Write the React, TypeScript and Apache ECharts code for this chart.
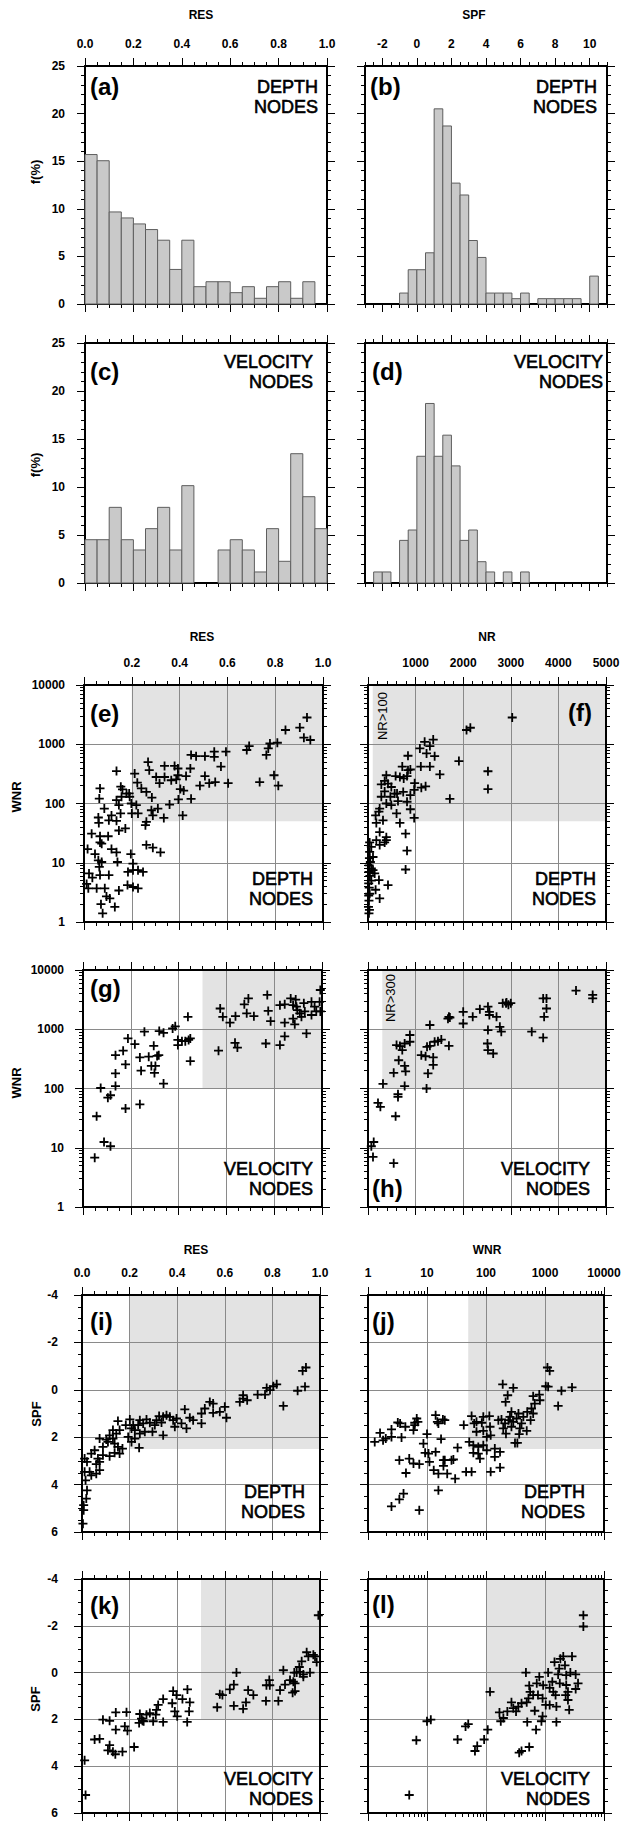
import React, { useEffect, useRef } from "react";
import * as echarts from "echarts";

const W = 624;
const H = 1821;
const FONT = '"Liberation Sans", Arial, Helvetica, sans-serif';

// ---------------- histogram data ----------------
const RES_BIN_LOWER = [0, 0.05, 0.1, 0.15, 0.2, 0.25, 0.3, 0.35, 0.4, 0.45, 0.5, 0.55, 0.6, 0.65, 0.7, 0.75, 0.8, 0.85, 0.9, 0.95];
const RES_BIN_WIDTH = 0.05;
const FREQ_RES_DEPTH = [15.7, 15.05, 9.67, 9.04, 8.41, 7.82, 6.7, 3.63, 6.7, 1.82, 2.34, 2.34, 1.19, 1.82, 0.6, 1.82, 2.34, 0.6, 2.34, 0];
const FREQ_RES_VELOCITY = [4.51, 4.51, 7.88, 4.51, 3.44, 5.66, 7.88, 3.44, 10.14, 0, 0, 3.44, 4.51, 3.44, 1.15, 5.66, 2.26, 13.47, 8.99, 5.66];

const SPF_BIN_LOWER = [-3, -2.5, -2, -1.5, -1, -0.5, 0, 0.5, 1, 1.5, 2, 2.5, 3, 3.5, 4, 4.5, 5, 5.5, 6, 6.5, 7, 7.5, 8, 8.5, 9, 9.5, 10, 10.5];
const SPF_BIN_WIDTH = 0.5;
const FREQ_SPF_DEPTH = [0, 0, 0, 0, 1.15, 3.6, 3.6, 5.38, 20.5, 18.7, 12.7, 11.45, 6.67, 4.89, 1.15, 1.15, 1.15, 0.56, 1.15, 0, 0.56, 0.56, 0.56, 0.56, 0.56, 0, 2.93, 0];
const FREQ_SPF_VELOCITY = [0, 1.15, 1.15, 0, 4.44, 5.52, 13.2, 18.7, 13.2, 15.4, 12.2, 4.44, 5.52, 2.22, 1.15, 0, 1.15, 0, 1.15, 0, 0, 0, 0, 0, 0, 0, 0, 0];

// ---------------- scatter data ----------------
// (e) depth nodes: [RES, WNR]
const RES_WNR_DEPTH: [number, number][] = [
  [0.933, 2830], [0.903, 1910], [0.843, 1740], [0.92, 1290], [0.947, 1180], [0.809, 1060], [0.778, 1030], [0.771, 850], [0.763, 660], [0.691, 930],
  [0.681, 800], [0.795, 300], [0.813, 200], [0.735, 230], [0.594, 750], [0.545, 750], [0.545, 610], [0.506, 630], [0.469, 630], [0.448, 660],
  [0.573, 420], [0.506, 290], [0.603, 220], [0.549, 230], [0.524, 220], [0.485, 200], [0.445, 390], [0.427, 290], [0.393, 390], [0.379, 430],
  [0.393, 300], [0.386, 255], [0.417, 165], [0.395, 117], [0.448, 120], [0.413, 63], [0.358, 96], [0.337, 430], [0.302, 280], [0.337, 280],
  [0.316, 220], [0.268, 500], [0.273, 365], [0.212, 320], [0.223, 225], [0.24, 180], [0.261, 157], [0.284, 126], [0.282, 77], [0.288, 63],
  [0.309, 82], [0.334, 57], [0.261, 49], [0.257, 43], [0.226, 68], [0.198, 100], [0.219, 94], [0.191, 130], [0.178, 147], [0.161, 173],
  [0.154, 192], [0.136, 353], [0.136, 114], [0.146, 94], [0.153, 68], [0.136, 51], [0.146, 35], [0.115, 63], [0.104, 52], [0.085, 82],
  [0.067, 180], [0.064, 121], [0.06, 58], [0.062, 47], [0.032, 31], [0.067, 28], [0.101, 28], [0.067, 22], [0.074, 21], [0.115, 17],
  [0.136, 15], [0.14, 10.3], [0.015, 17], [0.046, 14], [0.06, 11], [0.074, 10.3], [0.064, 8.5], [0.021, 6.6], [0.035, 5.6], [0.067, 6.2],
  [0.104, 6.2], [0.011, 4.4], [0.018, 3.7], [0.053, 3.7], [0.087, 3.7], [0.094, 2.7], [0.071, 2.0], [0.078, 1.4], [0.129, 1.8], [0.108, 2.5],
  [0.146, 3.4], [0.184, 7.0], [0.205, 9.7], [0.196, 14], [0.205, 7.5], [0.226, 7.5], [0.247, 7.0], [0.182, 4.2], [0.205, 3.9], [0.226, 3.7],
  [0.261, 20], [0.288, 18], [0.32, 15], [0.173, 38], [0.2, 68], [0.157, 130], [0.189, 148], [0.365, 247], [0.403, 175],
];
// (f) depth nodes: [NR, WNR]
const NR_WNR_DEPTH: [number, number][] = [
  [3030, 2830], [2070, 1740], [2150, 1900], [1910, 520], [2520, 350], [2520, 175], [1720, 120], [1510, 310], [1370, 1200], [1300, 930],
  [1190, 1100], [1090, 850], [1230, 700], [1400, 630], [1300, 420], [1110, 420], [1210, 195], [1120, 185], [840, 640], [720, 420],
  [890, 375], [820, 290], [670, 280], [580, 290], [750, 265], [980, 220], [970, 170], [890, 138], [820, 107], [890, 80],
  [970, 57], [670, 47], [790, 31], [820, 16], [790, 7.7], [385, 300], [280, 210], [420, 216], [350, 160], [490, 190],
  [610, 147], [470, 130], [630, 110], [280, 130], [385, 100], [490, 94], [600, 68], [245, 82], [160, 63], [230, 73],
  [175, 47], [245, 33], [385, 27], [350, 22], [245, 20], [70, 18.5], [35, 15.3], [105, 12.5], [50, 10.3], [70, 8],
  [20, 7], [140, 6.6], [230, 5.1], [420, 4.2], [160, 3.5], [245, 2.5], [35, 3.0], [20, 2.3], [20, 1.4], [840, 365],
  [350, 240], [560, 147], [740, 157], [315, 52], [385, 24], [35, 22], [105, 7.5], [70, 5], [175, 24], [30, 12],
  [25, 9], [40, 6], [15, 4.5], [25, 3.8], [15, 2.8], [10, 1.8], [30, 1.6],
];
// (g) velocity nodes: [RES, WNR]
const RES_WNR_VELOCITY: [number, number][] = [
  [0.049, 6.8], [0.057, 34], [0.088, 12.5], [0.115, 10.6], [0.074, 102], [0.104, 70], [0.115, 77], [0.136, 110], [0.136, 180], [0.136, 365],
  [0.168, 435], [0.178, 255], [0.178, 46], [0.188, 700], [0.217, 560], [0.238, 335], [0.243, 200], [0.238, 54], [0.257, 910], [0.296, 525],
  [0.275, 345], [0.31, 355], [0.317, 365], [0.286, 240], [0.303, 240], [0.299, 183], [0.319, 930], [0.337, 870], [0.337, 121], [0.375, 1030],
  [0.386, 1120], [0.397, 660], [0.397, 540], [0.414, 630], [0.428, 630], [0.442, 660], [0.449, 700], [0.439, 1620], [0.449, 290], [0.567, 435],
  [0.574, 2240], [0.585, 1620], [0.615, 1290], [0.638, 1660], [0.636, 590], [0.646, 490], [0.675, 2630], [0.692, 3310], [0.685, 1860], [0.715, 1660],
  [0.765, 575], [0.771, 3800], [0.775, 2040], [0.785, 1370], [0.824, 540], [0.824, 2550], [0.844, 2630], [0.844, 1290], [0.844, 760], [0.869, 3310],
  [0.89, 3170], [0.879, 2550], [0.879, 1510], [0.886, 1210], [0.893, 2400], [0.897, 2100], [0.914, 1620], [0.924, 2750], [0.928, 2000], [0.935, 850],
  [0.956, 2900], [0.956, 1740], [0.969, 2400], [0.976, 2000], [0.99, 2900], [0.993, 2000], [0.993, 4600], [0.907, 1860],
];
// (h) velocity nodes: [NR, WNR]
const NR_WNR_VELOCITY: [number, number][] = [
  [70, 10.6], [120, 12.5], [105, 7], [540, 5.5], [210, 57], [260, 49], [580, 34], [630, 80], [630, 72], [315, 120],
  [540, 184], [645, 300], [770, 240], [790, 195], [770, 110], [600, 540], [670, 520], [720, 445], [770, 575], [880, 800],
  [880, 615], [1120, 365], [1210, 350], [1300, 1180], [1240, 505], [1300, 525], [1400, 615], [1470, 630], [1540, 670], [1370, 335],
  [1370, 250], [1260, 180], [1230, 100], [1700, 525], [1680, 1510], [1700, 1620], [1720, 1580], [2000, 1970], [2000, 1250], [2200, 1620],
  [2350, 2180], [2520, 2400], [2550, 1970], [2550, 1740], [2700, 1620], [2520, 970], [2510, 575], [2520, 445], [2630, 390], [2770, 1100],
  [2800, 910], [2830, 2750], [2900, 2750], [2950, 2600], [2910, 2830], [3440, 910], [3680, 3310], [3750, 3310], [3750, 2240], [3700, 1620],
  [3680, 720], [4370, 4500], [4720, 3800], [4720, 3310], [3000, 2750],
];
// (i) depth nodes: [RES, SPF]
const RES_SPF_DEPTH: [number, number][] = [
  [0.941, -0.94], [0.927, -0.8], [0.937, -0.13], [0.906, 0.04], [0.846, 0.68], [0.818, -0.23], [0.804, -0.15], [0.776, -0.08], [0.769, 0.2], [0.738, 0.2],
  [0.694, 0.44], [0.677, 0.37], [0.677, 0.23], [0.6, 0.72], [0.607, 1.18], [0.579, 0.93], [0.551, 0.97], [0.551, 0.58], [0.537, 0.51], [0.516, 0.79],
  [0.502, 1.0], [0.502, 1.42], [0.467, 1.28], [0.453, 1.18], [0.432, 0.83], [0.439, 1.63], [0.418, 1.42], [0.397, 1.21], [0.39, 1.56], [0.369, 1.14],
  [0.355, 1.07], [0.341, 1.14], [0.324, 1.11], [0.334, 1.38], [0.341, 1.92], [0.313, 1.28], [0.296, 1.77], [0.285, 1.39], [0.271, 1.25], [0.257, 1.42],
  [0.243, 1.28], [0.264, 1.77], [0.243, 1.85], [0.222, 2.06], [0.24, 2.45], [0.208, 2.2], [0.215, 1.49], [0.201, 1.25], [0.184, 1.49], [0.208, 1.63],
  [0.222, 1.7], [0.194, 1.99], [0.151, 1.32], [0.144, 1.85], [0.13, 1.7], [0.116, 1.92], [0.102, 2.1], [0.074, 2.06], [0.109, 2.2], [0.137, 2.27],
  [0.151, 2.41], [0.17, 2.48], [0.158, 2.69], [0.137, 2.66], [0.116, 2.8], [0.088, 2.76], [0.067, 2.9], [0.053, 2.55], [0.039, 2.69], [0.074, 3.04],
  [0.06, 3.14], [0.074, 3.39], [0.06, 3.54], [0.039, 3.61], [0.032, 3.46], [0.021, 3.04], [0.011, 2.9], [0.011, 3.46], [0.015, 3.82], [0.021, 4.24],
  [0.018, 4.59], [0.007, 4.87], [0.007, 5.08], [0.004, 5.65], [0.088, 2.41], [0.13, 2.06], [0.158, 1.7], [0.236, 1.49], [0.306, 1.49], [0.383, 1.28],
  [0.663, 0.51], [0.79, 0.01],
];
// (j) depth nodes: [WNR, SPF]
const WNR_SPF_DEPTH: [number, number][] = [
  [1100, -0.94], [1200, -0.8], [192, -0.23], [290, -0.08], [233, 0.23], [215, 0.51], [1030, -0.15], [1130, -0.13], [1900, 0.04], [2870, -0.1],
  [1670, 0.68], [800, 0.2], [630, 0.27], [820, 0.44], [670, 0.58], [590, 0.79], [630, 1.0], [570, 1.28], [430, 1.14], [400, 1.42],
  [375, 1.63], [365, 1.87], [490, 1.73], [310, 2.24], [340, 2.24], [270, 0.93], [255, 1.14], [240, 1.28], [210, 1.42], [183, 1.25],
  [162, 1.28], [196, 1.63], [218, 1.85], [270, 1.56], [290, 1.35], [330, 1.21], [114, 1.11], [90, 1.14], [85, 1.39], [69, 1.35],
  [57, 1.11], [42, 1.49], [63, 1.42], [69, 1.77], [90, 1.73], [117, 1.56], [103, 1.99], [120, 1.92], [52, 2.2], [61, 2.34],
  [74, 2.41], [90, 2.34], [61, 2.66], [74, 2.69], [79, 2.9], [103, 2.55], [141, 2.48], [173, 2.62], [141, 2.83], [173, 3.28],
  [120, 3.46], [57, 3.46], [46, 3.46], [33, 2.44], [30, 3.75], [22, 3.54], [26, 2.97], [28, 2.94], [20, 2.97], [19, 2.97],
  [19, 3.21], [15.6, 3.54], [13, 3.39], [14, 2.62], [17.3, 2.08], [15.6, 1.42], [14, 1.07], [18.6, 1.25], [20, 1.28], [15, 1.35],
  [10.6, 2.69], [11, 3.04], [9.3, 2.66], [8.7, 2.27], [10, 1.87], [6.7, 1.21], [6.2, 1.49], [5.9, 1.7], [7.0, 1.35], [6.2, 1.39],
  [7.4, 3.14], [5.9, 3.11], [5.0, 2.9], [4.4, 3.51], [3.4, 2.97], [4.3, 1.56], [3.5, 1.42], [3.2, 1.38], [3.7, 2.01], [2.5, 1.99],
  [2.5, 1.67], [2.0, 2.06], [1.8, 2.13], [1.6, 1.82], [1.3, 2.2], [4.0, 4.38], [3.4, 4.62], [2.5, 4.92], [7.4, 5.08], [15.6, 4.24],
  [355, 1.0], [500, 0.93],
];
// (k) velocity nodes: [RES, SPF]
const RES_SPF_VELOCITY: [number, number][] = [
  [0.993, -2.45], [0.986, -0.45], [0.979, -0.69], [0.951, -0.69], [0.958, 0.0], [0.972, -0.76], [0.944, -0.87], [0.923, -0.48], [0.913, -0.24], [0.902, 0.0],
  [0.892, 0.0], [0.916, -0.03], [0.93, 0.08], [0.93, 0.18], [0.888, 0.39], [0.895, 0.79], [0.885, 0.86], [0.874, 0.32], [0.853, 0.51], [0.846, -0.1],
  [0.832, 0.75], [0.825, 1.21], [0.787, 0.32], [0.775, 0.54], [0.789, 0.54], [0.773, 1.21], [0.72, 0.96], [0.698, 0.75], [0.689, 1.27], [0.677, 1.55],
  [0.649, 0.0], [0.638, 0.51], [0.621, 0.72], [0.638, 1.42], [0.59, 0.96], [0.579, 0.92], [0.568, 1.48], [0.443, 0.72], [0.453, 1.27], [0.45, 1.66],
  [0.442, 2.11], [0.422, 1.13], [0.397, 0.96], [0.383, 0.79], [0.379, 1.31], [0.39, 1.66], [0.4, 1.87], [0.341, 1.13], [0.341, 2.11], [0.32, 1.38],
  [0.313, 1.59], [0.31, 1.8], [0.299, 2.08], [0.285, 1.73], [0.271, 1.8], [0.259, 2.08], [0.243, 1.77], [0.24, 2.15], [0.25, 1.97], [0.254, 2.06],
  [0.187, 1.69], [0.191, 2.48], [0.18, 2.3], [0.142, 1.7], [0.142, 2.44], [0.116, 2.06], [0.088, 2.01], [0.053, 2.86], [0.074, 2.83], [0.116, 3.1],
  [0.109, 3.32], [0.14, 3.49], [0.17, 3.38], [0.13, 3.38], [0.219, 3.18], [0.011, 3.75], [0.015, 5.23], [0.895, 0.46],
];
// (l) velocity nodes: [WNR, SPF]
const WNR_SPF_VELOCITY: [number, number][] = [
  [5.0, 5.23], [6.6, 2.89], [10, 2.08], [11.6, 2.01], [33, 2.86], [45, 2.3], [50, 2.2], [65, 3.35], [71, 3.14], [93, 2.86],
  [107, 2.44], [117, 0.82], [169, 1.7], [178, 2.08], [197, 1.94], [230, 1.66], [270, 1.27], [323, 1.66], [353, 1.45], [365, 3.42],
  [400, 3.35], [540, 3.18], [475, 0.0], [490, 1.27], [525, 1.1], [560, 0.82], [540, 0.56], [630, 0.96], [670, 1.63], [705, 2.44],
  [500, 2.11], [725, 0.46], [800, 0.18], [910, 1.1], [870, 2.08], [910, 1.87], [1030, 1.38], [1130, 0.0], [1200, 0.65], [1330, 0.39],
  [1450, -0.45], [1510, 0.96], [1560, 1.45], [1560, 2.11], [1670, 0.08], [1740, -0.17], [1820, -0.59], [2040, -0.69], [2180, -0.31], [2240, 0.96],
  [2290, 0.11], [2450, 1.17], [2570, 1.59], [2690, 0.0], [2870, -0.69], [2290, 0.53], [2450, 0.82], [3310, 0.08], [3630, 0.46], [3310, 0.7],
  [4470, -2.45], [4470, -1.97], [1780, 0.46], [1380, 0.82], [930, 0.54], [760, 0.96], [290, 1.52], [400, 1.31], [1200, 1.38],
];

// shaded (selected) regions: lower-left corner thresholds [x, y]
const SHADE_E = [0.2, 50];
const SHADE_F = [100, 50];
const SHADE_G = [0.5, 100];
const SHADE_H = [300, 100];
const SHADE_I = [0.2, 2.5];
const SHADE_J = [50, 2.5];
const SHADE_K = [0.5, 2];
const SHADE_L = [100, 2];

// ---------------- tick labels ----------------
const RES_TICKS = [0, 0.2, 0.4, 0.6, 0.8, 1.0];
const RES_LABELS_NOZERO = [0.2, 0.4, 0.6, 0.8, 1.0];
const SPF_X_TICKS = [-2, 0, 2, 4, 6, 8, 10];
const FREQ_TICKS = [0, 5, 10, 15, 20, 25];
const WNR_TICKS = [1, 10, 100, 1000, 10000];
const NR_TICKS = [0, 1000, 2000, 3000, 4000, 5000];
const NR_LABELS = [1000, 2000, 3000, 4000, 5000];
const SPF_Y_TICKS = [-4, -2, 0, 2, 4, 6];

function steps(a: number, b: number, s: number) {
  const out: number[] = [];
  const n = Math.round((b - a) / s);
  for (let i = 0; i <= n; i++) out.push(+(a + i * s).toFixed(6));
  return out;
}
function logMinor(d0: number, d1: number) {
  const out: number[] = [];
  for (let e = d0; e < d1; e++) for (let m = 2; m <= 9; m++) out.push(+(m * Math.pow(10, e)).toFixed(6));
  return out;
}

type AxisSpec = { type: "value" | "log"; min: number; max: number; inverse?: boolean; major: number[]; minor: number[]; fmt: (v: number) => string };

const AX: Record<string, AxisSpec> = {
  res: { type: "value", min: 0, max: 1, major: RES_TICKS, minor: steps(0, 1, 0.05), fmt: (v) => v.toFixed(1) },
  spfx: { type: "value", min: -3, max: 11, major: SPF_X_TICKS, minor: steps(-3, 11, 0.5), fmt: (v) => String(v) },
  freq: { type: "value", min: 0, max: 25, major: FREQ_TICKS, minor: steps(0, 25, 1), fmt: (v) => String(v) },
  wnr: { type: "log", min: 1, max: 10000, major: WNR_TICKS, minor: logMinor(0, 4), fmt: (v) => String(Math.round(v)) },
  nr: { type: "value", min: 0, max: 5000, major: NR_TICKS, minor: steps(0, 5000, 200), fmt: (v) => String(v) },
  spfy: { type: "value", min: -4, max: 6, inverse: true, major: SPF_Y_TICKS, minor: steps(-4, 6, 0.5), fmt: (v) => String(v) },
};

// ---------------- layout ----------------
const ROWS = [
  { top: 66, h: 238, L: [85, 242], R: [365, 242] },
  { top: 343, h: 240, L: [85, 242], R: [365, 242] },
  { top: 685, h: 237, L: [84, 239], R: [368, 238] },
  { top: 970, h: 237, L: [83, 239], R: [368, 238] },
  { top: 1295, h: 237, L: [82, 238], R: [368, 236] },
  { top: 1579, h: 234, L: [82, 238], R: [368, 236] },
];

type Panel = {
  letter: string; row: number; col: 0 | 1;
  x: AxisSpec; y: AxisSpec;
  xLabels?: number[]; yLabels?: number[]; yMargin?: number;
  hist?: { lower: number[]; width: number; freq: number[] };
  scatter?: [number, number][];
  shade?: number[];
  letterPos: [number, number] | "right";
  letterDy: number;
  nodes: string; nodesRight: number; nodesBase: number;
  nr?: { text: string; dx: number; dy: number };
};

const PANELS: Panel[] = [
  { letter: "(a)", row: 0, col: 0, x: AX.res, y: AX.freq, xLabels: RES_TICKS, yLabels: FREQ_TICKS, yMargin: 20,
    hist: { lower: RES_BIN_LOWER, width: RES_BIN_WIDTH, freq: FREQ_RES_DEPTH }, letterPos: [90, 86], letterDy: 0, nodes: "DEPTH", nodesRight: 318, nodesBase: 93 },
  { letter: "(b)", row: 0, col: 1, x: AX.spfx, y: AX.freq, xLabels: SPF_X_TICKS,
    hist: { lower: SPF_BIN_LOWER, width: SPF_BIN_WIDTH, freq: FREQ_SPF_DEPTH }, letterPos: [370, 86], letterDy: 0, nodes: "DEPTH", nodesRight: 597, nodesBase: 93 },
  { letter: "(c)", row: 1, col: 0, x: AX.res, y: AX.freq, yLabels: FREQ_TICKS, yMargin: 20,
    hist: { lower: RES_BIN_LOWER, width: RES_BIN_WIDTH, freq: FREQ_RES_VELOCITY }, letterPos: [90, 371], letterDy: 0, nodes: "VELOCITY", nodesRight: 313, nodesBase: 368 },
  { letter: "(d)", row: 1, col: 1, x: AX.spfx, y: AX.freq,
    hist: { lower: SPF_BIN_LOWER, width: SPF_BIN_WIDTH, freq: FREQ_SPF_VELOCITY }, letterPos: [372, 371], letterDy: 0, nodes: "VELOCITY", nodesRight: 603, nodesBase: 368 },
  { letter: "(e)", row: 2, col: 0, x: AX.res, y: AX.wnr, xLabels: RES_LABELS_NOZERO, yLabels: WNR_TICKS, yMargin: 19,
    scatter: RES_WNR_DEPTH, shade: SHADE_E, letterPos: [90, 713], letterDy: 0, nodes: "DEPTH", nodesRight: 313, nodesBase: 885 },
  { letter: "(f)", row: 2, col: 1, x: AX.nr, y: AX.wnr, xLabels: NR_LABELS,
    scatter: NR_WNR_DEPTH, shade: SHADE_F, letterPos: "right", letterDy: 712, nodes: "DEPTH", nodesRight: 596, nodesBase: 885,
    nr: { text: "NR>100", dx: 14, dy: 31 } },
  { letter: "(g)", row: 3, col: 0, x: AX.res, y: AX.wnr, yLabels: WNR_TICKS, yMargin: 19,
    scatter: RES_WNR_VELOCITY, shade: SHADE_G, letterPos: [90, 988], letterDy: 0, nodes: "VELOCITY", nodesRight: 313, nodesBase: 1175 },
  { letter: "(h)", row: 3, col: 1, x: AX.nr, y: AX.wnr,
    scatter: NR_WNR_VELOCITY, shade: SHADE_H, letterPos: [372, 1188], letterDy: 0, nodes: "VELOCITY", nodesRight: 590, nodesBase: 1175,
    nr: { text: "NR>300", dx: 22, dy: 28 } },
  { letter: "(i)", row: 4, col: 0, x: AX.res, y: AX.spfy, xLabels: RES_TICKS, yLabels: SPF_Y_TICKS, yMargin: 24,
    scatter: RES_SPF_DEPTH, shade: SHADE_I, letterPos: [90, 1321], letterDy: 0, nodes: "DEPTH", nodesRight: 305, nodesBase: 1498 },
  { letter: "(j)", row: 4, col: 1, x: AX.wnr, y: AX.spfy, xLabels: WNR_TICKS,
    scatter: WNR_SPF_DEPTH, shade: SHADE_J, letterPos: [372, 1321], letterDy: 0, nodes: "DEPTH", nodesRight: 585, nodesBase: 1498 },
  { letter: "(k)", row: 5, col: 0, x: AX.res, y: AX.spfy, yLabels: SPF_Y_TICKS, yMargin: 24,
    scatter: RES_SPF_VELOCITY, shade: SHADE_K, letterPos: [90, 1605], letterDy: 0, nodes: "VELOCITY", nodesRight: 313, nodesBase: 1785 },
  { letter: "(l)", row: 5, col: 1, x: AX.wnr, y: AX.spfy,
    scatter: WNR_SPF_VELOCITY, shade: SHADE_L, letterPos: [372, 1604], letterDy: 0, nodes: "VELOCITY", nodesRight: 590, nodesBase: 1785 },
];

const TOP_TITLES: [string, number, number][] = [
  ["RES", 201, 15], ["SPF", 474, 15],
  ["RES", 202, 637], ["NR", 487, 637],
  ["RES", 196, 1250], ["WNR", 487, 1250],
];
const SIDE_TITLES: [string, number, number][] = [
  ["f(%)", 35, 172], ["f(%)", 35, 465],
  ["WNR", 16, 797], ["WNR", 16, 1083],
  ["SPF", 36, 1414], ["SPF", 35, 1699],
];

const PLUS = "path://M4,0H6V4H10V6H6V10H4V6H0V4H4Z";

function gridRect(p: Panel) {
  const r = ROWS[p.row];
  const c = p.col === 0 ? r.L : r.R;
  return { left: c[0], top: r.top, width: c[1], height: r.h };
}

function makeAxis(spec: AxisSpec, gridIndex: number, position: string, major: boolean, labels: number[] | undefined, margin: number, split: boolean) {
  const a: any = {
    gridIndex,
    type: spec.type,
    min: spec.min,
    max: spec.max,
    inverse: !!spec.inverse,
    position,
    z: 2,
    silent: true,
    axisLine: { show: major, onZero: false, lineStyle: { color: "#000", width: 2 } },
    axisTick: { show: true, inside: false, length: major ? 8 : 4, customValues: major ? spec.major : spec.minor, lineStyle: { color: "#000", width: 1 } },
    axisLabel: labels
      ? { show: true, customValues: labels, formatter: (v: number) => spec.fmt(v), margin, color: "#000", fontSize: 12, fontWeight: "bold", fontFamily: FONT }
      : { show: false },
    splitLine: { show: split, lineStyle: { color: "#8a8a8a", width: 1 } },
    minorTick: { show: false },
    minorSplitLine: { show: false },
  };
  if (spec.type === "log") a.logBase = 10;
  return a;
}

function buildOption() {
  const grid: any[] = [];
  const xAxis: any[] = [];
  const yAxis: any[] = [];
  const series: any[] = [];
  const graphic: any[] = [];

  PANELS.forEach((p, i) => {
    const g = gridRect(p);
    grid.push({ ...g, show: false, containLabel: false, outerBoundsMode: "none" });
    const isScatter = !!p.scatter;
    // x axes: top major, top minor, bottom major, bottom minor
    xAxis.push(makeAxis(p.x, i, "top", true, p.xLabels, 16, isScatter));
    xAxis.push(makeAxis(p.x, i, "top", false, undefined, 0, false));
    xAxis.push(makeAxis(p.x, i, "bottom", true, undefined, 0, false));
    xAxis.push(makeAxis(p.x, i, "bottom", false, undefined, 0, false));
    // y axes: left major, left minor, right major, right minor
    yAxis.push(makeAxis(p.y, i, "left", true, p.yLabels, p.yMargin || 20, isScatter));
    yAxis.push(makeAxis(p.y, i, "left", false, undefined, 0, false));
    yAxis.push(makeAxis(p.y, i, "right", true, undefined, 0, false));
    yAxis.push(makeAxis(p.y, i, "right", false, undefined, 0, false));
    const xi = 4 * i;
    const yi = 4 * i;

    if (p.hist) {
      const h = p.hist;
      const data = h.lower.map((lo, k) => [lo, lo + h.width, h.freq[k]]).filter((d) => d[2] > 0);
      series.push({
        type: "custom",
        xAxisIndex: xi,
        yAxisIndex: yi,
        z: 3,
        silent: true,
        encode: { x: [0, 1], y: 2 },
        data,
        renderItem: (_params: any, api: any) => {
          const p0 = api.coord([api.value(0), 0]);
          const p1 = api.coord([api.value(1), api.value(2)]);
          return {
            type: "rect",
            shape: { x: p0[0], y: p1[1], width: p1[0] - p0[0], height: p0[1] - p1[1] },
            style: { fill: "#c9c9c9", stroke: "#5e5e5e", lineWidth: 1 },
          };
        },
      });
    }
    if (p.scatter) {
      const sh = p.shade!;
      const yEnd = p.y.inverse ? p.y.min : p.y.max;
      series.push({
        type: "scatter",
        xAxisIndex: xi,
        yAxisIndex: yi,
        z: 1,
        silent: true,
        data: [],
        markArea: {
          silent: true,
          z: 1,
          itemStyle: { color: "#e3e3e3", borderWidth: 0 },
          label: { show: false },
          data: [[{ coord: [sh[0], sh[1]] }, { coord: [p.x.max, yEnd] }]],
        },
      });
      series.push({
        type: "scatter",
        xAxisIndex: xi,
        yAxisIndex: yi,
        z: 4,
        silent: true,
        symbol: PLUS,
        symbolSize: 9,
        itemStyle: { color: "#000", opacity: 1 },
        data: p.scatter,
      });
    }

    // panel letter
    if (p.letterPos === "right") {
      graphic.push({
        type: "text", z: 10,
        style: { text: p.letter, x: g.left + g.width - 14, y: p.letterDy, align: "right", verticalAlign: "middle", font: `bold 24px ${FONT}`, fill: "#000" },
      });
    } else {
      graphic.push({
        type: "text", z: 10,
        style: { text: p.letter, x: p.letterPos[0], y: p.letterPos[1], align: "left", verticalAlign: "middle", font: `bold 24px ${FONT}`, fill: "#000" },
      });
    }
    // DEPTH / VELOCITY NODES
    const nodeStyle = { align: "right", verticalAlign: "middle", font: `18px ${FONT}`, fill: "#000", stroke: "#000", lineWidth: 0.6 };
    graphic.push({ type: "text", z: 10, style: { ...nodeStyle, text: p.nodes, x: p.nodesRight, y: p.nodesBase - 6 } });
    graphic.push({ type: "text", z: 10, style: { ...nodeStyle, text: "NODES", x: p.nodesRight, y: p.nodesBase + 20 - 6 } });
    if (p.nr) {
      graphic.push({
        type: "text", z: 10, x: g.left + p.nr.dx, y: g.top + p.nr.dy, rotation: Math.PI / 2,
        style: { text: p.nr.text, x: 0, y: 0, align: "center", verticalAlign: "middle", font: `13px ${FONT}`, fill: "#000" },
      });
    }
  });

  TOP_TITLES.forEach(([t, x, y]) => {
    graphic.push({ type: "text", z: 10, style: { text: t, x, y, align: "center", verticalAlign: "middle", font: `bold 12px ${FONT}`, fill: "#000" } });
  });
  SIDE_TITLES.forEach(([t, x, y]) => {
    graphic.push({
      type: "text", z: 10, x, y, rotation: Math.PI / 2,
      style: { text: t, x: 0, y: 0, align: "center", verticalAlign: "middle", font: `bold 13px ${FONT}`, fill: "#000" },
    });
  });

  return {
    animation: false,
    backgroundColor: "#fff",
    textStyle: { fontFamily: FONT },
    grid,
    xAxis,
    yAxis,
    series,
    graphic: { elements: graphic },
  };
}

export default function App() {
  const ref = useRef<HTMLDivElement>(null);
  useEffect(() => {
    if (!ref.current) return;
    const chart = echarts.init(ref.current, undefined, { renderer: "svg" });
    chart.setOption(buildOption() as any);
    return () => chart.dispose();
  }, []);
  return <div ref={ref} style={{ position: "absolute", left: 0, top: 0, width: W, height: H, background: "#fff" }} />;
}
